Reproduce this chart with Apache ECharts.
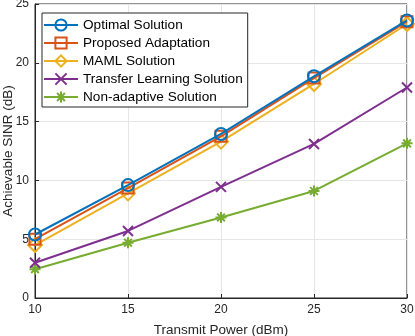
<!DOCTYPE html>
<html><head><meta charset="utf-8">
<script src="https://cdn.jsdelivr.net/npm/echarts@6/dist/echarts.min.js"></script>
<style>html,body{margin:0;padding:0;background:#fff}#c{width:415px;height:336px}</style>
</head><body><div id="c"></div>
<script>
const powers = [10, 15, 20, 25, 30];
const optimal = [5.4, 9.6, 13.95, 18.85, 23.6];
const proposed = [5.0, 9.35, 13.75, 18.7, 23.5];
const maml = [4.5, 8.9, 13.3, 18.2, 23.3];
const transfer = [3.0, 5.7, 9.45, 13.1, 17.9];
const nonAdaptive = [2.45, 4.7, 6.85, 9.1, 13.15];
const seriesNames = ['Optimal Solution','Proposed Adaptation','MAML Solution','Transfer Learning Solution','Non-adaptive Solution'];
const colors = ['#0072BD','#D95319','#EDB120','#7E2F8E','#77AC30'];
const xPath = 'path://M0 0 L10 10 M10 0 L0 10';
const starPath = 'path://M5 0 L5 10 M0 5 L10 5 M1.5 1.5 L8.5 8.5 M8.5 1.5 L1.5 8.5';
const symbols = ['circle','rect','diamond', xPath, starPath];
const sizes = [12, 11, 14, 10, 11];
const allData = [optimal, proposed, maml, transfer, nonAdaptive];
const font = 'Liberation Sans, Arial, Helvetica, sans-serif';
const chart = echarts.init(document.getElementById('c'), null, {renderer:'canvas'});
const series = allData.map((d, i) => ({
  name: seriesNames[i], type: 'line',
  data: powers.map((p, j) => [p, d[j]]),
  symbol: symbols[i], symbolSize: sizes[i],
  showAllSymbol: true,
  lineStyle: {color: colors[i], width: 2},
  itemStyle: {color: (i >= 3 ? colors[i] : 'rgba(255,255,255,0)'), borderColor: colors[i], borderWidth: 2},
  z: 10 - i
}));
chart.setOption({
  animation: false,
  backgroundColor: '#fff',
  grid: {left: 35, right: 8, top: 4, bottom: 38, show: true, borderColor: '#262626', borderWidth: 1, containLabel: false, outerBoundsMode: 'none'},
  legend: {
    left: 42, top: 13, orient: 'vertical',
    backgroundColor: '#fff', borderColor: '#262626', borderWidth: 1,
    padding: [5, 5, 3, 1], itemGap: 4, itemWidth: 34, itemHeight: 14,
    textStyle: {fontFamily: font, fontSize: 13.6, color: '#000'},
    data: seriesNames
  },
  xAxis: {
    type: 'value', min: 10, max: 30, interval: 5,
    name: 'Transmit Power (dBm)', nameLocation: 'middle', nameGap: 25, nameMoveOverlap: false,
    nameTextStyle: {fontFamily: font, fontSize: 13.5, color: '#262626'},
    axisLine: {show: true, lineStyle: {color: '#262626'}},
    axisTick: {show: true, inside: true, length: 4, lineStyle: {color: '#262626'}},
    axisLabel: {fontFamily: font, fontSize: 12, color: '#262626', margin: 6},
    splitLine: {show: true, lineStyle: {color: '#e6e6e6'}}
  },
  yAxis: {
    type: 'value', min: 0, max: 25, interval: 5,
    name: 'Achievable SINR (dB)', nameLocation: 'middle', nameGap: 20, nameMoveOverlap: false,
    nameTextStyle: {fontFamily: font, fontSize: 13.5, color: '#262626'},
    axisLine: {show: true, lineStyle: {color: '#262626'}},
    axisTick: {show: true, inside: true, length: 4, lineStyle: {color: '#262626'}},
    axisLabel: {fontFamily: font, fontSize: 12, color: '#262626', margin: 6},
    splitLine: {show: true, lineStyle: {color: '#e6e6e6'}}
  },
  series: series
});
</script></body></html>
